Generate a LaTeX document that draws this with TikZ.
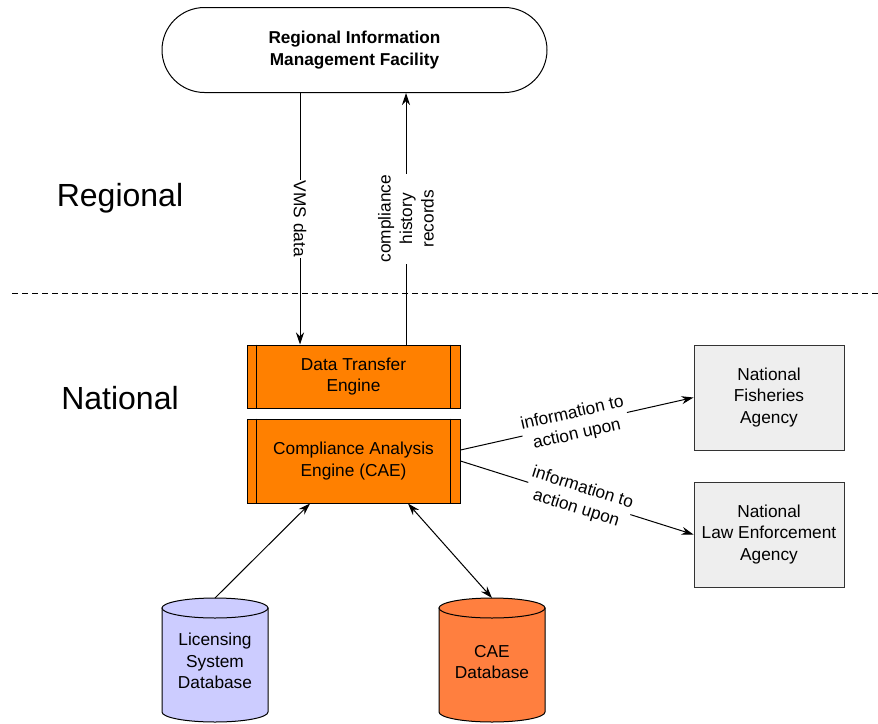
\documentclass[tikz,border=0pt]{standalone}
\usepackage{fontspec}
\setmainfont{Liberation Sans}
\usetikzlibrary{arrows.meta,calc}
\definecolor{engorange}{RGB}{255,128,0}
\definecolor{dborange}{RGB}{255,127,63}
\definecolor{dblav}{RGB}{204,204,255}
\definecolor{agray}{RGB}{238,238,238}
\begin{document}
\begin{tikzpicture}[x=1pt,y=-1pt,
  lw/.style={line width=1pt},
  txt/.style={font=\fontsize{17.3}{21.5}\selectfont, align=center},
  engine/.style={lw, draw=black, fill=engorange, minimum width=213pt, txt, inner sep=0pt},
  agency/.style={lw, draw=black!80, fill=agray, minimum width=150pt, minimum height=105pt, txt, inner sep=0pt},
  arr/.style={lw, -{Stealth[length=12pt,width=8pt]}},
  darr/.style={lw, {Stealth[length=12pt,width=8pt]}-{Stealth[length=12pt,width=8pt]}},
  lbl/.style={txt, fill=white, inner sep=1pt},
  big/.style={font=\fontsize{32}{36}\selectfont}
]
\useasboundingbox (0,0) rectangle (878,723);

% top facility
\node[lw, draw, rounded corners=42.5pt, minimum width=385pt, minimum height=85pt,
      font=\bfseries\fontsize{17.2}{22}\selectfont, align=center] (rimf) at (354.5,50)
      {Regional Information\\Management Facility};

% region labels
\node[big] (reg) at (120,198) {Regional};
\node[big] (nat) at (120,398) {National};

% separator
\coordinate (sepL) at (12,293);
\coordinate (sepR) at (878,293);
\draw[lw, dash pattern=on 6pt off 4pt] (sepL) -- (sepR);

% engines
\node[engine, minimum height=63pt] (dte) at (353.5,376.5) {Data Transfer\\Engine};
\node[engine, minimum height=84pt] (cae) at (353.5,461) {Compliance Analysis\\Engine (CAE)};
\foreach \n in {dte,cae}{
  \draw[lw] ($(\n.north west)+(10,0)$) -- ($(\n.south west)+(10,0)$);
  \draw[lw] ($(\n.north east)+(-10,0)$) -- ($(\n.south east)+(-10,0)$);
}

% agencies
\node[agency] (fish) at (769,397.5) {National\\Fisheries\\Agency};
\node[agency] (law) at (769,534.5) {National\\Law Enforcement\\Agency};

% cylinders
\draw[lw, fill=dblav] (162,608) -- (162,712) arc[start angle=180,end angle=0,x radius=53,y radius=10] -- (268,608) -- cycle;
\draw[lw, fill=dblav] (215,608) ellipse[x radius=53,y radius=10];
\node[txt] (lic) at (215,661) {Licensing\\System\\Database};
\coordinate (lictop) at (215,598);

\draw[lw, fill=dborange] (439,608) -- (439,712) arc[start angle=180,end angle=0,x radius=53,y radius=10] -- (545,608) -- cycle;
\draw[lw, fill=dborange] (492,608) ellipse[x radius=53,y radius=10];
\node[txt] (caedb) at (492,662) {CAE\\Database};
\coordinate (caedbtop) at (492,598);

% vertical flows
\coordinate (vx) at (300,0);
\coordinate (cx) at (406,0);
\draw[arr] (rimf.south -| vx) -- node[lbl, rotate=-90, pos=0.5] {VMS data} (dte.north -| vx);
\draw[arr] (dte.north -| cx) -- node[lbl, rotate=90, pos=0.5] {compliance\\history\\records} (rimf.south -| cx);

% information flows
\draw[arr] ($(cae.east)+(0,-11)$) -- node[lbl, sloped, pos=0.49] {information to\\action upon} (fish.west);
\draw[arr] (cae.east) -- node[lbl, sloped, pos=0.51] {information to\\action upon} (law.west);

% database flows
\draw[arr] (lictop) -- ($(cae.south)+(-43.5,0)$);
\draw[darr] ($(cae.south)+(54.5,0)$) -- (caedbtop);
\end{tikzpicture}
\end{document}
